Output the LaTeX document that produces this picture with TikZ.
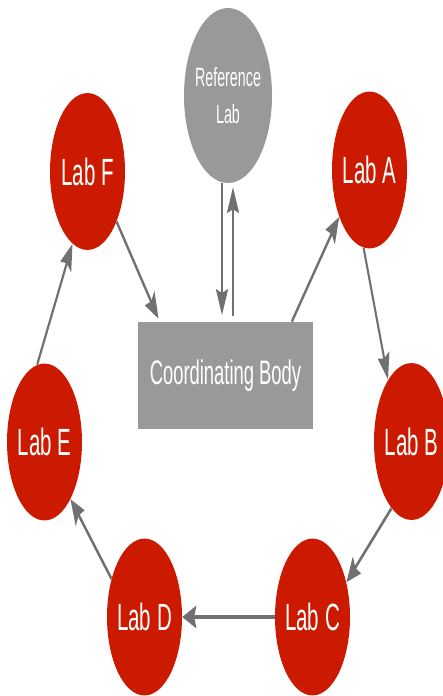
\documentclass[tikz,border=0pt]{standalone}
\usepackage{fontspec}
\setmainfont{Liberation Sans}
\usetikzlibrary{shapes.geometric,arrows.meta}
\definecolor{labred}{HTML}{CC1A00}
\definecolor{boxgray}{HTML}{999999}
\definecolor{arrowgray}{HTML}{707070}
\begin{document}
\begin{tikzpicture}
\useasboundingbox (0pt,0pt) rectangle (443pt,-696pt);
\begin{scope}[transform canvas={yscale=1.85}, x=1pt, y=-0.540541pt,
  lab/.style={ellipse, fill=labred, draw=none, inner sep=0pt, minimum width=75pt, minimum height=84.8pt},
  labtext/.style={text=white, font=\fontsize{20.5}{24}\selectfont, inner sep=0pt},
  reftext/.style={text=white, font=\fontsize{14.3}{20}\selectfont, inner sep=0pt, align=center},
  conn/.style={draw=arrowgray, line width=2pt, -{Stealth[length=14pt,width=12pt,inset=2pt]}}]
  \node[ellipse, fill=boxgray, draw=none, inner sep=0pt, minimum width=88pt, minimum height=94.6pt,
        label={[reftext]center:Reference\\Lab}] (Ref) at (228,95.5) {};
  \node[rectangle, fill=boxgray, draw=none, inner sep=0pt, minimum width=175pt, minimum height=57.8pt,
        text=white, font=\fontsize{18.4}{22}\selectfont] (CB) at (225.5,375.5) {Coordinating Body};
  \node[lab, label={[labtext]center:Lab F}] (F) at (87.5,171.5) {};
  \node[lab, label={[labtext]center:Lab A}] (A) at (369.5,170) {};
  \node[lab, label={[labtext]center:Lab E}] (E) at (44.5,442) {};
  \node[lab, label={[labtext]center:Lab B}] (B) at (411.5,441.5) {};
  \node[lab, label={[labtext]center:Lab D}] (D) at (144.5,617) {};
  \node[lab, label={[labtext]center:Lab C}] (C) at (312.5,617) {};

  \draw[conn, shorten >=2pt] (F.-43) -- ([xshift=22pt]CB.north west);
  \draw[conn] ([xshift=154pt]CB.north west) -- (A.-140);
  \draw[conn, shorten >=3.5pt] ([xshift=-6pt]Ref.south) -- ([xshift=-6pt]Ref.south |- CB.north);
  \draw[conn, shorten <=3pt, shorten >=2pt] ([xshift=5pt]Ref.south |- CB.north) -- ([xshift=5pt]Ref.south);
  \draw[conn] (A.-98) -- (B.125);
  \draw[conn] (B.-119) -- (C.29);
  \draw[conn] (C.west) -- (D.east);
  \draw[conn] (D.148) -- (E.-50);
  \draw[conn] (E.100) -- (F.-111);
\end{scope}
\end{tikzpicture}
\end{document}
